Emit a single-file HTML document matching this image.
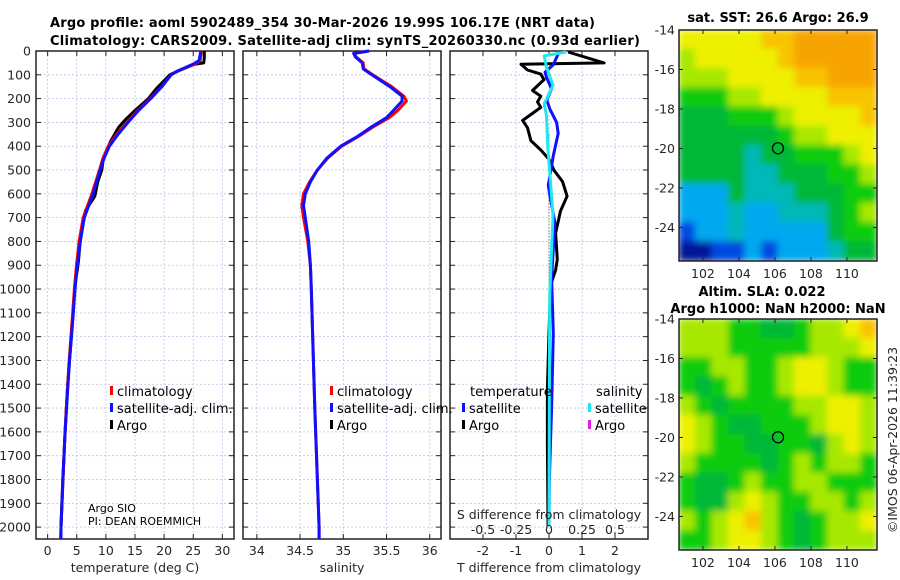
<!DOCTYPE html>
<html><head><meta charset="utf-8">
<style>
body{margin:0;background:#fff;}
svg{display:block;font-family:"DejaVu Sans","Liberation Sans",sans-serif;}
.tk{font-size:12.5px;fill:#262626;}
.ttl{font-size:13px;font-weight:bold;fill:#000;}
.lg{font-size:13px;fill:#000;}
</style></head>
<body>
<svg id="chart" width="900" height="580" viewBox="0 0 900 580">
<defs>
<filter id="blur" x="0" y="0" width="1" height="1"><feGaussianBlur stdDeviation="3.5"/></filter>
<clipPath id="clipMap1"><rect x="679" y="30" width="198" height="231"/></clipPath>
<clipPath id="clipMap2"><rect x="679" y="319" width="198" height="231"/></clipPath>
</defs>
<text class="ttl" x="50" y="27" textLength="545">Argo profile: aoml 5902489_354 30-Mar-2026 19.99S 106.17E (NRT data)</text>
<text class="ttl" x="50" y="45" textLength="590">Climatology: CARS2009. Satellite-adj clim: synTS_20260330.nc (0.93d earlier)</text>
<g id="plots"></g>
</svg>
<script>
// ---- data ----
const depthT = [0,40,55,70,85,100,150,200,250,300,350,400,450,500,600,700,800,900,1000,1100,1200,1300,1400,1500,1600,1700,1800,1900,2000,2050];
const tempClim = [26.4,26.2,25.3,23.8,22.3,21.2,19.6,17.6,15.5,13.6,11.9,10.4,9.5,8.9,7.6,6.1,5.4,4.95,4.6,4.3,4.0,3.7,3.45,3.2,3.0,2.8,2.6,2.45,2.3,2.2];
const tempSat  = [26.3,26.0,25.0,23.6,22.2,21.2,19.6,17.7,15.6,13.8,12.1,10.6,9.7,9.0,7.8,6.3,5.6,5.1,4.7,4.4,4.1,3.75,3.5,3.25,3.0,2.8,2.6,2.45,2.3,2.3];
const depthA = [0,30,50,55,60,100,160,200,250,290,320,380,420,460,500,550,610,670,770,880,920,980,1190,1420,1650,2000];
const tempArgo = [26.9,26.9,26.8,25.4,24.6,21.0,18.6,17.3,15.0,13.3,12.2,10.8,10.1,9.5,9.3,8.6,8.1,6.5,5.7,5.3,5.1,4.7,4.1,3.4,2.9,2.3];
const depthS = [0,10,25,50,75,100,150,190,210,250,280,320,360,400,450,500,550,600,650,700,800,900,1000,1500,2000,2050];
const salClim = [35.30,35.12,35.15,35.23,35.24,35.34,35.56,35.70,35.73,35.63,35.53,35.34,35.17,34.98,34.82,34.70,34.61,34.54,34.52,34.54,34.59,34.62,34.63,34.67,34.72,34.72];
const salSat  = [35.30,35.12,35.14,35.22,35.23,35.33,35.54,35.68,35.68,35.58,35.50,35.32,35.16,34.97,34.81,34.70,34.62,34.56,34.54,34.56,34.60,34.62,34.63,34.67,34.72,34.72];
const depthDA = [4,50,56,80,97,120,166,190,214,237,292,322,377,416,455,501,548,610,672,766,875,920,983,1185,1419,1652,1995];
const dTArgo = [0.58,1.67,-0.85,-0.65,-0.25,-0.15,-0.5,-0.25,-0.35,-0.25,-0.8,-0.65,-0.55,-0.25,0,0.15,0.41,0.55,0.35,0.2,0.25,0.2,0.05,0,-0.05,-0.05,-0.03];
const depthDS = [12,58,89,113,159,206,245,300,346,440,564,610,720,952,1185,1497,1808,1995];
const dTSat = [0.28,0.13,-0.12,-0.07,0.08,-0.07,0.03,0.23,0.28,0.13,-0.02,0.03,0.18,0.08,0.13,0.08,0.01,0];
const depthSS = [4,20,66,144,222,268,408,688,1030,1500,1995];
const dSSat = [0.13,-0.036,-0.02,0.03,-0.036,-0.02,-0.008,0.03,0.005,0.002,0];
const depthTicks = [0,100,200,300,400,500,600,700,800,900,1000,1100,1200,1300,1400,1500,1600,1700,1800,1900,2000];
const tTicks = [0,5,10,15,20,25,30];
const sTicks = [34,34.5,35,35.5,36];
const dTTicks = [-2,-1,0,1,2];
const dSTicks = [-0.5,-0.25,0,0.25,0.5];
const lonTicks = [102,104,106,108,110];
const latTicks = [-14,-16,-18,-20,-22,-24];
const sstGrid = [
[7,7,7,7,7,8,8,9,9,9,9,9],
[6,7,7,7,7,7,8,9,9,9,9,9],
[6,6,6,7,7,7,7,8,8,9,9,9],
[5,5,5,6,6,7,7,7,7,8,8,8],
[4,4,4,5,5,5,6,7,7,7,7,8],
[4,4,4,4,4,4,5,6,6,7,7,7],
[4,4,4,4,3,4,4,5,5,5,6,7],
[4,4,4,4,3,3,4,4,4,5,5,6],
[2,2,2,4,3,3,3,4,4,4,5,5],
[2,2,2,3,2,2,3,3,3,4,5,6],
[1,2,2,3,2,2,2,2,2,4,5,5],
[0,0,1,1,2,1,2,2,2,3,4,4]];
const slaGrid = [
[6,6,6,5,5,4,4,5,6,6,7,8],
[6,6,6,5,5,5,5,5,6,6,6,7],
[5,5,6,6,5,5,6,7,7,6,5,5],
[5,4,5,6,5,5,6,7,7,6,5,5],
[6,5,4,5,5,5,5,6,6,7,7,6],
[7,6,5,4,4,5,5,5,6,7,7,6],
[7,6,5,5,4,4,5,5,4,6,7,6],
[6,5,5,5,5,4,5,6,5,6,6,5],
[5,4,4,5,6,5,5,6,6,5,5,5],
[5,4,4,6,7,6,5,5,6,6,5,6],
[6,5,6,7,8,6,5,4,5,6,6,7],
[5,5,6,7,7,6,5,4,5,6,6,6]];
const argoLon = 106.17, argoLat = -19.99;

// ---- drawing ----
const NS='http://www.w3.org/2000/svg';
const root=document.getElementById('plots');
function el(tag,attrs,parent){const e=document.createElementNS(NS,tag);for(const k in attrs)e.setAttribute(k,attrs[k]);(parent||root).appendChild(e);return e;}
const Y0=51, Y1=539, DMAX=2050;
const yD=d=>Y0+d*(Y1-Y0)/DMAX;
const panels=[
 {x0:36,x1:234,min:-2,max:32,ticks:tTicks,label:'temperature (deg C)',name:'temperature-panel'},
 {x0:243,x1:441,min:33.84,max:36.13,ticks:sTicks,label:'salinity',name:'salinity-panel'},
 {x0:450,x1:648,min:-3,max:3,ticks:dTTicks,label:'T difference from climatology',name:'difference-panel'}];
panels.forEach((p,i)=>{
 p.sx=v=>p.x0+(v-p.min)*(p.x1-p.x0)/(p.max-p.min);
 const g=el('g',{});
 
 
 depthTicks.forEach(d=>{
  const l=el('line',{x1:p.x0,x2:p.x1,y1:yD(d),y2:yD(d),stroke:'#b8c4e8','stroke-width':0.8,'stroke-dasharray':'2,2'},g);
  
  
  el('line',{x1:p.x0,x2:p.x0+5,y1:yD(d),y2:yD(d),stroke:'#222'},g);
  el('line',{x1:p.x1-5,x2:p.x1,y1:yD(d),y2:yD(d),stroke:'#222'},g);
  if(i===0){const t=el('text',{x:p.x0-5,y:yD(d)+4.5,'text-anchor':'end',class:'tk'},g);t.textContent=d;
   
   }
 });
 p.ticks.forEach(v=>{
  const x=p.sx(v);
  el('line',{x1:x,x2:x,y1:Y0,y2:Y1,stroke:'#b8c4e8','stroke-width':0.8,'stroke-dasharray':'2,2'},g);
  el('line',{x1:x,x2:x,y1:Y1-5,y2:Y1,stroke:'#222'},g);
  el('line',{x1:x,x2:x,y1:Y0,y2:Y0+5,stroke:'#222'},g);
  const t=el('text',{x:x,y:555,'text-anchor':'middle',class:'tk'},g);t.textContent=v;
  
  
 });
 el('rect',{x:p.x0,y:Y0,width:p.x1-p.x0,height:Y1-Y0,fill:'none',stroke:'#222','stroke-width':1.5},g);
 const at=el('text',{x:(p.x0+p.x1)/2,y:572,'text-anchor':'middle',class:'tk'},g);at.textContent=p.label;
 
 
});
function line(p,vals,depths,color,w,name,scale){
 const pts=vals.map((v,i)=>p.sx(v*(scale||1)).toFixed(1)+','+yD(depths[i]).toFixed(1)).join(' ');
 const l=el('polyline',{points:pts,fill:'none',stroke:color,'stroke-width':w,'stroke-linejoin':'round'});
 
 
}
const [P1,P2,P3]=panels;
line(P1,tempArgo,depthA,'#000',3,'argo-temperature-line');
line(P1,tempClim,depthT,'#f00',3,'climatology-temperature-line');
line(P1,tempSat,depthT,'#1010ff',3,'satellite-temperature-line');
line(P2,salClim,depthS,'#f00',3,'climatology-salinity-line');
line(P2,salSat,depthS,'#1010ff',3,'satellite-salinity-line');
el('line',{x1:P3.sx(0),x2:P3.sx(0),y1:yD(350),y2:yD(1000),stroke:'#444','stroke-width':1,'stroke-dasharray':'1,2'});
line(P3,dTArgo,depthDA,'#000',3,'argo-temperature-difference-line');
line(P3,dTSat,depthDS,'#1010ff',3,'satellite-temperature-difference-line');
line(P3,dSSat,depthSS,'#20e8f0',3,'satellite-salinity-difference-line',4);
dSTicks.forEach(v=>{const t=el('text',{x:P3.sx(v*4),y:534,'text-anchor':'middle',class:'tk'});t.textContent=v;
 
 });
const sdt=el('text',{x:549,y:519,'text-anchor':'middle',class:'tk'});sdt.textContent='S difference from climatology';



function legend(x,y,color,txt,name){
 el('rect',{x:x,y:y-10,width:3,height:9,fill:color});
 const t=el('text',{x:x+7,y:y,class:'lg'});t.textContent=txt;
 
 
}
legend(110,396,'#f00','climatology','legend-climatology');
legend(110,413,'#1010ff','satellite-adj. clim.','legend-satellite-adj');
legend(110,430,'#000','Argo','legend-argo');
legend(330,396,'#f00','climatology','legend-climatology-2');
legend(330,413,'#1010ff','satellite-adj. clim.','legend-satellite-adj-2');
legend(330,430,'#000','Argo','legend-argo-2');
const lt=el('text',{x:470,y:396,class:'lg'});lt.textContent='temperature';


const ls=el('text',{x:596,y:396,class:'lg'});ls.textContent='salinity';


legend(462,413,'#1010ff','satellite','legend-temperature-satellite');
legend(462,430,'#000','Argo','legend-temperature-argo');
legend(588,413,'#20e8f0','satellite','legend-salinity-satellite');
legend(588,430,'#e020e0','Argo','legend-salinity-argo');
const s1=el('text',{x:88,y:512,'font-size':11,fill:'#000'});s1.textContent='Argo SIO';


const s2=el('text',{x:88,y:525,'font-size':11,fill:'#000'});s2.textContent='PI: DEAN ROEMMICH';



const palette=['#001898','#0048e0','#00a8f0','#00b8b8','#00b838','#08cc08','#a8e800','#eef000','#f8c400','#f8a400'];
const MX0=679,MX1=877,LON0=100.67,LON1=111.67,LAT0=-14,LAT1=-25.7;
const mx=lon=>MX0+(lon-LON0)*(MX1-MX0)/(LON1-LON0);
function drawMap(grid,top,clip,name){
 const h=231, my=lat=>top+(lat-LAT0)*h/(LAT1-LAT0);
 const g=el('g',{});
 
 
 const cg=el('g',{'clip-path':'url(#'+clip+')'},g);
 const inner=el('g',{filter:'url(#blur)'},cg);
 const rows=grid.length, cols=grid[0].length;
 const cw=(MX1-MX0)/cols, ch=h/rows;
 el('rect',{x:MX0,y:top,width:MX1-MX0,height:h,fill:palette[5]},inner);
 grid.forEach((r,i)=>r.forEach((v,j)=>{
  el('rect',{x:MX0+j*cw-0.5,y:top+i*ch-0.5,width:cw+1,height:ch+1,fill:palette[v]},inner);
 }));
 el('rect',{x:MX0,y:top,width:MX1-MX0,height:h,fill:'none',stroke:'#222','stroke-width':1.5},g);
 lonTicks.forEach(l=>{const x=mx(l);
  el('line',{x1:x,x2:x,y1:top+h-4,y2:top+h,stroke:'#222'},g);
  el('line',{x1:x,x2:x,y1:top,y2:top+4,stroke:'#222'},g);
  const t=el('text',{x:x,y:top+h+17,'text-anchor':'middle',class:'tk'},g);t.textContent=l;
  
  });
 latTicks.forEach(l=>{const y=my(l);
  el('line',{x1:MX0,x2:MX0+4,y1:y,y2:y,stroke:'#222'},g);
  el('line',{x1:MX1-4,x2:MX1,y1:y,y2:y,stroke:'#222'},g);
  const t=el('text',{x:MX0-4,y:y+4.5,'text-anchor':'end',class:'tk'},g);t.textContent=l;
  
  });
 const c=el('circle',{cx:mx(argoLon),cy:my(argoLat),r:5.5,fill:'none',stroke:'#000','stroke-width':1.3},g);
 
 
}
drawMap(sstGrid,30,'clipMap1','sst-map');
drawMap(slaGrid,319,'clipMap2','sla-map');
function ttl(x,y,txt,name){const t=el('text',{x:x,y:y,'text-anchor':'middle',class:'ttl'});t.textContent=txt;
 
 }
ttl(778,22,'sat. SST: 26.6 Argo: 26.9','sst-map-title');
ttl(762,296,'Altim. SLA: 0.022','sla-map-title');
ttl(778,313,'Argo h1000: NaN h2000: NaN','sla-map-subtitle');
const cp=el('text',{x:0,y:0,'text-anchor':'middle',class:'tk',transform:'translate(897,440) rotate(-90)'});
cp.textContent='©IMOS 06-Apr-2026 11:39:23';


</script>
</body></html>
